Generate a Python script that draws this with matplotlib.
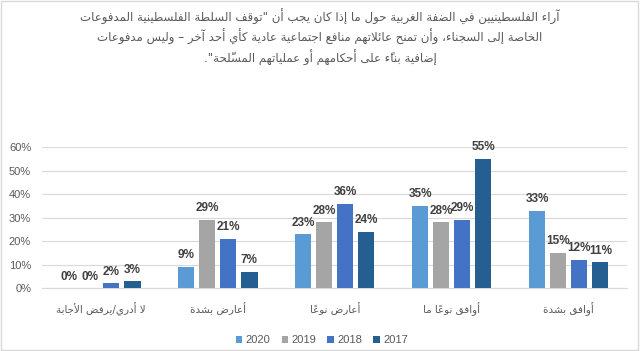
import matplotlib
matplotlib.use("Agg")
import matplotlib.pyplot as plt
from matplotlib.patches import Rectangle
import numpy as np

# --- data ---
categories = ["لا أدري/يرفض الأجابة", "أعارض بشدة", "أعارض نوعاً", "أوافق نوعاً ما", "أوافق بشدة"]
years = ["2020", "2019", "2018", "2017"]
v2020 = [0, 9, 23, 35, 33]
v2019 = [0, 29, 28, 28, 15]
v2018 = [2, 21, 36, 29, 12]
v2017 = [3, 7, 24, 55, 11]
yticks = [0, 10, 20, 30, 40, 50, 60]
title_lines = [
    'آراء الفلسطينيين في الضفة الغربية حول ما إذا كان يجب أن "توقف السلطة الفلسطينية المدفوعات',
    "الخاصة إلى السجناء، وأن تمنح عائلاتهم منافع اجتماعية عادية كأي أحد آخر – وليس مدفوعات",
    'إضافية بناءً على أحكامهم أو عملياتهم المسلّحة".',
]
colors = ["#5B9BD5", "#A5A5A5", "#4472C4", "#255E91"]

# --- minimal arabic shaping (matplotlib has no shaping/bidi) ---
LETTERS = "ءآأؤإئابةتثجحخدذرزسشصضطظعغفقكلمنهوىي"
FORMS = {}
code = 0xFE80
for ch in LETTERS:
    n = 1 if ch == "ء" else 2 if ch in "آأؤإاةدذرزوى" else 4
    FORMS[ch] = (code, n)
    code += n
LAM_ALEF = {"آ": 0xFEF5, "أ": 0xFEF7, "إ": 0xFEF9, "ا": 0xFEFB}
MARKS = set(chr(c) for c in range(0x064B, 0x0653))


def joins_prev(b):
    return b.startswith("LA") or (b in FORMS and FORMS[b][1] >= 2)


def joins_next(b):
    return b in FORMS and FORMS[b][1] == 4


def shape(text):
    cl = []
    for ch in text:
        if ch in MARKS and cl:
            cl[-1][1] += ch
        else:
            cl.append([ch, ""])
    merged = []
    i = 0
    while i < len(cl):
        b, m = cl[i]
        if b == "ل" and i + 1 < len(cl) and cl[i + 1][0] in LAM_ALEF:
            merged.append(["LA" + cl[i + 1][0], m + cl[i + 1][1]])
            i += 2
        else:
            merged.append([b, m])
            i += 1
    out = []
    for k, (b, m) in enumerate(merged):
        prev = merged[k - 1][0] if k > 0 else ""
        nxt = merged[k + 1][0] if k + 1 < len(merged) else ""
        jp = joins_next(prev) and joins_prev(b)
        if b.startswith("LA"):
            g = chr(LAM_ALEF[b[2]] + (1 if jp else 0))
        elif b in FORMS:
            base, n = FORMS[b]
            jn = n == 4 and joins_prev(nxt)
            if n == 1:
                idx = 0
            elif n == 2:
                idx = 1 if jp else 0
            else:
                idx = 3 if (jp and jn) else 1 if jp else 2 if jn else 0
            g = chr(base + idx)
        else:
            g = b
        out.append(g + m)
    return "".join(reversed(out))


plt.rcParams["font.family"] = ["Liberation Sans", "DejaVu Sans"]
ar_font = ["DejaVu Sans"]
grey = "#595959"

fig = plt.figure(figsize=(6.4, 3.51), dpi=100)
ax = fig.add_axes([0.066, 0.179, 0.914, 0.402])

x = np.arange(len(categories))
series = [v2020, v2019, v2018, v2017]
for j, (vals, yr, c) in enumerate(zip(series, years, colors)):
    bars = ax.bar(x + (j - 1.5) * 0.18, vals, width=0.14, color=c, label=yr, zorder=3)
    ax.bar_label(bars, labels=[f"{v}%" for v in vals], padding=4,
                 fontsize=8.5, fontweight="bold", color="#404040")

ax.set_xlim(-0.5, len(categories) - 0.5)
ax.set_ylim(0, 60)
ax.set_yticks(yticks)
ax.set_yticklabels([f"{t}%" for t in yticks], fontsize=8, color=grey)
ax.set_xticks(x)
ax.set_xticklabels([shape(c) for c in categories], fontsize=7.5, color=grey, family=ar_font)
ax.tick_params(axis="x", length=0, pad=10)
ax.tick_params(axis="y", length=0, pad=8)
ax.yaxis.grid(True, color="#D9D9D9", lw=0.8, zorder=0)
for s in ["top", "right", "left"]:
    ax.spines[s].set_visible(False)
ax.spines["bottom"].set_color("#D9D9D9")

for k, line in enumerate(title_lines):
    fig.text(0.5, 0.952 - k * 0.058, shape(line), ha="center", va="center",
             fontsize=8.5, color=grey, family=ar_font)

fig.legend(loc="lower center", bbox_to_anchor=(0.503, -0.012), ncol=4, frameon=False,
           fontsize=8, handlelength=0.6, handleheight=0.6, handletextpad=0.3,
           columnspacing=1.0, labelcolor=grey)

fig.patches.append(Rectangle((0.002, 0.003), 0.995, 0.994, transform=fig.transFigure,
                             fill=False, edgecolor="#D9D9D9", lw=1))

fig.savefig("out.png", dpi=100)
